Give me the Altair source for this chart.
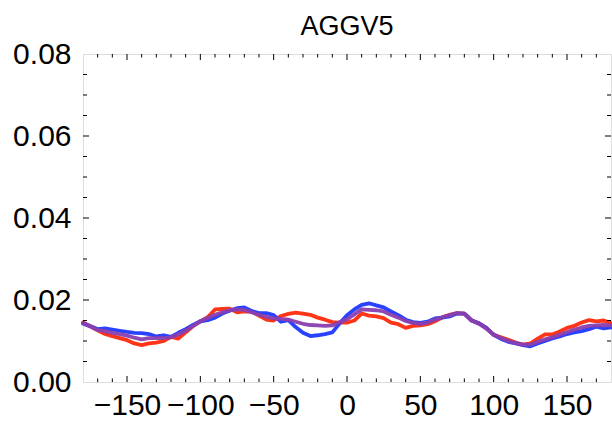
import altair as alt
import pandas as pd

# Dihedral angle grid (degrees) and the three density profiles
angles = list(range(-180, 181, 5))

red_vals = [
    0.0145, 0.0136, 0.0126, 0.0117, 0.0112, 0.0107, 0.0102, 0.0094, 0.0090, 0.0094,
    0.0096, 0.0100, 0.0110, 0.0106, 0.0121, 0.0136, 0.0148, 0.0158, 0.0177, 0.0178,
    0.0179, 0.0170, 0.0172, 0.0172, 0.0162, 0.0152, 0.0150, 0.0161, 0.0166, 0.0169,
    0.0167, 0.0164, 0.0157, 0.0152, 0.0146, 0.0145, 0.0145, 0.0150, 0.0167, 0.0162,
    0.0160, 0.0156, 0.0145, 0.0141, 0.0132, 0.0137, 0.0138, 0.0141, 0.0148, 0.0158,
    0.0164, 0.0168, 0.0167, 0.0150, 0.0143, 0.0132, 0.0115, 0.0109, 0.0103, 0.0096,
    0.0091, 0.0094, 0.0106, 0.0116, 0.0116, 0.0123, 0.0132, 0.0137, 0.0145, 0.0151,
    0.0148, 0.0150, 0.0143,
]

blue_vals = [
    0.0143, 0.0136, 0.0129, 0.0131, 0.0128, 0.0125, 0.0122, 0.0120, 0.0119, 0.0117,
    0.0111, 0.0114, 0.0110, 0.0120, 0.0129, 0.0139, 0.0148, 0.0151, 0.0157, 0.0167,
    0.0174, 0.0180, 0.0182, 0.0173, 0.0168, 0.0168, 0.0163, 0.0147, 0.0151, 0.0134,
    0.0120, 0.0112, 0.0114, 0.0117, 0.0121, 0.0143, 0.0163, 0.0177, 0.0188, 0.0192,
    0.0187, 0.0182, 0.0172, 0.0163, 0.0152, 0.0146, 0.0144, 0.0147, 0.0155, 0.0157,
    0.0160, 0.0167, 0.0167, 0.0150, 0.0143, 0.0132, 0.0115, 0.0105, 0.0098, 0.0094,
    0.0090, 0.0087, 0.0094, 0.0100, 0.0106, 0.0111, 0.0117, 0.0121, 0.0124, 0.0129,
    0.0135, 0.0131, 0.0133,
]

purple_vals = [
    0.0143, 0.0136, 0.0127, 0.0124, 0.0120, 0.0117, 0.0113, 0.0108, 0.0104, 0.0107,
    0.0107, 0.0107, 0.0109, 0.0116, 0.0125, 0.0137, 0.0148, 0.0156, 0.0164, 0.0170,
    0.0175, 0.0177, 0.0176, 0.0170, 0.0164, 0.0159, 0.0155, 0.0154, 0.0152, 0.0147,
    0.0142, 0.0139, 0.0138, 0.0137, 0.0138, 0.0146, 0.0153, 0.0165, 0.0177, 0.0176,
    0.0175, 0.0172, 0.0164, 0.0157, 0.0149, 0.0144, 0.0142, 0.0145, 0.0152, 0.0158,
    0.0163, 0.0168, 0.0167, 0.0150, 0.0142, 0.0130, 0.0116, 0.0107, 0.0100, 0.0095,
    0.0091, 0.0091, 0.0098, 0.0104, 0.0109, 0.0115, 0.0122, 0.0128, 0.0133, 0.0137,
    0.0138, 0.0139, 0.0138,
]

x_label_values = [-150, -100, -50, 0, 50, 100, 150]
y_label_values = [0.0, 0.02, 0.04, 0.06, 0.08]
x_major_ticks = [-150, -100, -50, 0, 50, 100, 150]
x_minor_ticks = [v for v in range(-170, 171, 10) if v % 50 != 0]
y_major_ticks = [0.02, 0.04, 0.06]
y_minor_ticks = [0.005, 0.01, 0.015, 0.025, 0.03, 0.035, 0.045, 0.05, 0.055, 0.065, 0.07, 0.075]

W, H = 528, 328
FONT = "Liberation Sans"

x_scale = alt.Scale(domain=[-180, 180], nice=False, zero=False)
y_scale = alt.Scale(domain=[0, 0.08], nice=False, zero=False)

x_axis = alt.Axis(values=x_label_values, title=None, ticks=False, domain=False, grid=False,
                  labelFont=FONT, labelFontSize=30, labelColor="black", labelPadding=8,
                  labelOverlap=False, labelFlush=False)
y_axis = alt.Axis(values=y_label_values, format=".2f", title=None, ticks=False, domain=False,
                  grid=False, labelFont=FONT, labelFontSize=30, labelColor="black",
                  labelPadding=12, labelOverlap=False, labelFlush=False)


def series_line(vals, color):
    df = pd.DataFrame({"angle": angles, "value": vals})
    return alt.Chart(df).mark_line(color=color, strokeWidth=3.8, strokeJoin="round",
                                   strokeCap="round", opacity=0.95).encode(
        x=alt.X("angle:Q", scale=x_scale, axis=x_axis),
        y=alt.Y("value:Q", scale=y_scale, axis=y_axis))


red_line = series_line(red_vals, "#ff2a0c")
blue_line = series_line(blue_vals, "#1c38ff")
purple_line = series_line(purple_vals, "#8a3fae")


def x_ticks(vals, length, top):
    df = pd.DataFrame({"angle": vals})
    y0, y1 = (0, length) if top else (H, H - length)
    return alt.Chart(df).mark_rule(color="black", strokeWidth=1).encode(
        x=alt.X("angle:Q", scale=x_scale, axis=x_axis),
        y=alt.value(y0), y2=alt.value(y1))


def y_ticks(vals, length, right):
    df = pd.DataFrame({"value": vals})
    x0, x1 = (W, W - length) if right else (0, length)
    return alt.Chart(df).mark_rule(color="black", strokeWidth=1).encode(
        y=alt.Y("value:Q", scale=y_scale, axis=y_axis),
        x=alt.value(x0), x2=alt.value(x1))


ticks = [
    x_ticks(x_major_ticks, 6, False), x_ticks(x_minor_ticks, 3.5, False),
    x_ticks(x_major_ticks, 6, True), x_ticks(x_minor_ticks, 3.5, True),
    y_ticks(y_major_ticks, 6, False), y_ticks(y_minor_ticks, 4, False),
    y_ticks(y_major_ticks, 6, True), y_ticks(y_minor_ticks, 4, True),
]

chart = alt.layer(red_line, blue_line, purple_line, *ticks).properties(
    width=W, height=H,
    title=alt.TitleParams("AGGV5", font=FONT, fontSize=27, fontWeight="normal", color="black",
                          anchor="middle", frame="group", offset=-2),
    autosize=alt.AutoSizeParams(type="none"),
    padding={"left": 83, "top": 54, "right": 1, "bottom": 47},
).configure_view(stroke="#222222", strokeWidth=1.2).configure(background="white")

chart.save("out.html", embed_options={"renderer": "svg", "actions": False})
